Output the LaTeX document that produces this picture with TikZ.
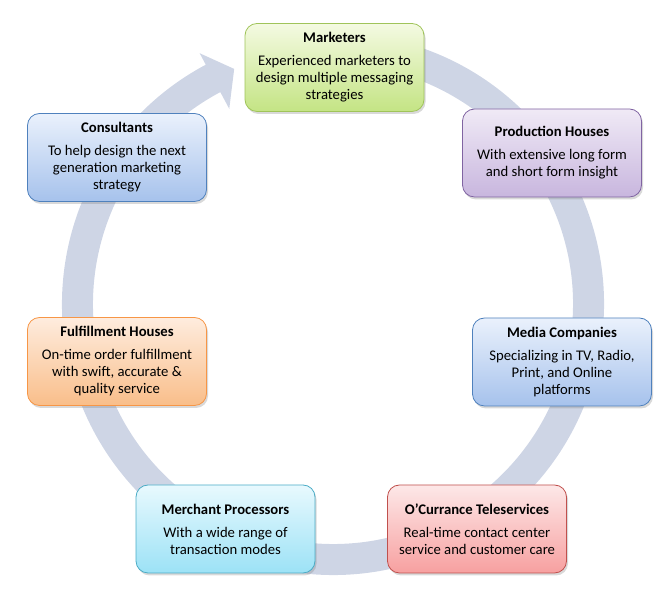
\documentclass[tikz,border=0pt]{standalone}
\usepackage{fontspec}
\setmainfont{Carlito}
\usetikzlibrary{shadows}
\definecolor{ringcol}{RGB}{206,213,229}
\tikzset{
  box/.style={rounded corners=12pt, minimum width=179pt, minimum height=88pt,
    align=center, draw, line width=0.8pt, inner sep=0pt,
    drop shadow={shadow xshift=1.5pt, shadow yshift=-2.5pt, opacity=0.3},
    font=\fontsize{14.7}{17}\selectfont},
  greenbox/.style={box, draw={rgb,255:red,160;green,196;blue,90}, top color={rgb,255:red,244;green,250;blue,226}, bottom color={rgb,255:red,196;green,228;blue,132}},
  purplebox/.style={box, draw={rgb,255:red,128;green,100;blue,162}, top color={rgb,255:red,240;green,234;blue,246}, bottom color={rgb,255:red,200;green,182;blue,222}},
  bluebox/.style={box, draw={rgb,255:red,79;green,129;blue,189}, top color={rgb,255:red,234;green,241;blue,252}, bottom color={rgb,255:red,166;green,194;blue,236}},
  redbox/.style={box, draw={rgb,255:red,192;green,80;blue,77}, top color={rgb,255:red,253;green,232;blue,232}, bottom color={rgb,255:red,247;green,160;blue,160}},
  cyanbox/.style={box, draw={rgb,255:red,75;green,172;blue,198}, top color={rgb,255:red,232;green,249;blue,254}, bottom color={rgb,255:red,156;green,226;blue,246}},
  orangebox/.style={box, draw={rgb,255:red,247;green,150;blue,70}, top color={rgb,255:red,254;green,236;blue,222}, bottom color={rgb,255:red,249;green,190;blue,138}},
}
\begin{document}
\begin{tikzpicture}[x=1pt,y=1pt]
\useasboundingbox (0,0) rectangle (670,599);
% ring with arrow
\begin{scope}[shift={(333,295)}]
\fill[ringcol] (80:271pt) arc[start angle=80, end angle=-242, radius=271pt]
  -- (118:284pt) -- (112.8:255pt) -- (118:221pt) -- (118:240pt)
  arc[start angle=-242, end angle=80, radius=240pt] -- cycle;
\end{scope}
\node[greenbox] (mk) at (334.5,531.5) {\textbf{Marketers}\\[6pt]Experienced marketers to\\design multiple messaging\\strategies};
\node[purplebox] (ph) at (552,446) {\textbf{Production Houses}\\[6pt]With extensive long form\\and short form insight};
\node[bluebox] (mc) at (562,237) {\textbf{Media Companies}\\[6pt]Specializing in TV, Radio,\\Print, and Online\\platforms};
\node[redbox] (oc) at (477,70) {\textbf{O’Currance Teleservices}\\[6pt]Real-time contact center\\service and customer care};
\node[cyanbox] (mp) at (225.5,70) {\textbf{Merchant Processors}\\[6pt]With a wide range of\\transaction modes};
\node[orangebox] (fh) at (117,237.5) {\textbf{Fulfillment Houses}\\[6pt]On-time order fulfillment\\with swift, accurate \&\\quality service};
\node[bluebox] (co) at (117,441.5) {\textbf{Consultants}\\[6pt]To help design the next\\generation marketing\\strategy};
\end{tikzpicture}
\end{document}
